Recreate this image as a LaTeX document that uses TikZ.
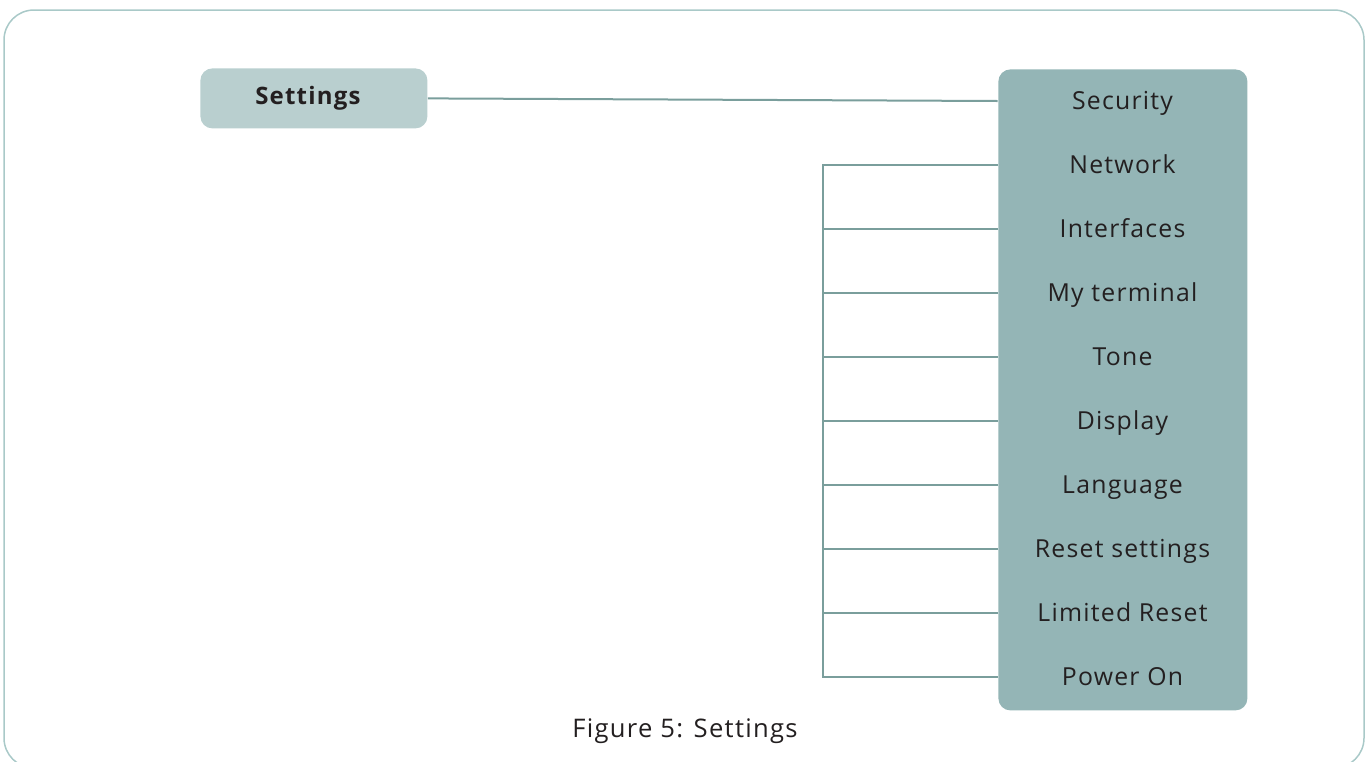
\documentclass[tikz,border=0pt]{standalone}
\usepackage{fontspec}
\setmainfont{Open Sans}[LetterSpace=5]
\usetikzlibrary{positioning}
\definecolor{framec}{RGB}{169,201,200}
\definecolor{rootfill}{RGB}{185,207,207}
\definecolor{menufill}{RGB}{148,181,182}
\definecolor{wirec}{RGB}{122,158,156}
\definecolor{ink}{RGB}{35,31,32}

\begin{document}
\begin{tikzpicture}[
    x=0.5pt, y=-0.5pt,
    root/.style={fill=rootfill, rounded corners=6pt, minimum width=113.5pt,
      minimum height=30pt, inner sep=0pt, text height=8.5pt, text depth=2pt,
      font=\fontsize{12}{14}\selectfont\bfseries, text=ink},
    menu/.style={fill=menufill, rounded corners=6pt, minimum width=124.5pt,
      minimum height=320.5pt, inner sep=0pt},
    item/.style={minimum width=124.5pt, inner sep=0pt, text height=8.8pt,
      text depth=0pt, font=\fontsize{12.4}{14}\selectfont, text=ink},
    wire/.style={draw=wirec, line width=1pt},
    caption/.style={font=\fontsize{12.8}{15}\selectfont, text=ink}
  ]
    % Canvas and outer frame
    \clip (0,0) rectangle (1366,761);
    \draw[draw=framec, line width=0.75pt, rounded corners=15pt] (4,10) rectangle (1364,768);

    % Root entry
    \node[root, anchor=north west] (settings) at (200,68) {Settings\kern6pt};

    % Menu panel
    \node[menu, anchor=north west] (panel) at (998,69) {};

    % Menu entries
    \foreach \name/\txt [count=\i from 0] in {security/Security, network/Network,
        interfaces/Interfaces, terminal/My terminal, tone/Tone, display/Display,
        language/Language, reset/Reset settings, limited/Limited Reset, poweron/Power On}
      \node[item] (\name) at (1122.5,101+64*\i) {\txt};

    % Connectors
    \draw[wire] (settings.east) -- (security.west);
    \draw[wire] (network.west) -- ++(-175,0) coordinate (bus) |- (poweron.west);
    \foreach \name in {interfaces, terminal, tone, display, language, reset, limited}
      \draw[wire] (\name.west) -- (\name.west -| bus);

    % Caption
    \node[caption] (fig) at (685,731) {Figure 5: Settings};
  \end{tikzpicture}
\end{document}
